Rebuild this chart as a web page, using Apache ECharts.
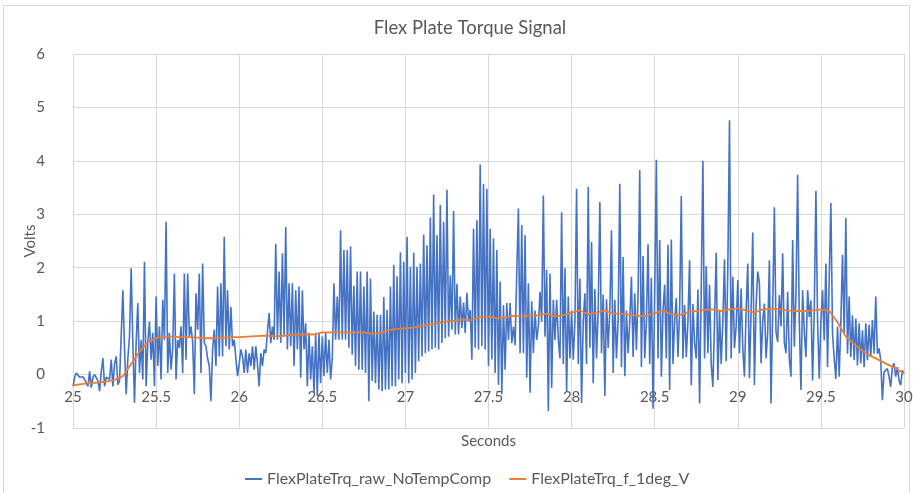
<!DOCTYPE html>
<html>
<head>
<meta charset="utf-8">
<script src="https://cdn.jsdelivr.net/npm/echarts@6/dist/echarts.min.js"></script>
<style>
  html, body { margin: 0; padding: 0; background: #fff; }
  .frame {
    position: absolute; left: 3px; top: 5px; width: 907px; height: 492px;
    border: 1px solid #d9d9d9; box-sizing: border-box;
  }
  #chart { position: absolute; left: 0; top: 0; width: 913px; height: 493px; }
</style>
</head>
<body>
<div class="frame"></div>
<div id="chart"></div>
<script>
// raw signal, one value every 0.01 s from 25.00 s
const rawStart = 25
const rawStep = 0.01
const rawValues = [
  -0.22, -0.05, 0.03, 0.02, -0.05, -0.08, -0.04, -0.06, -0.15, -0.22,
  0.06, -0.25, -0.05, 0.00, -0.03, -0.12, -0.31, 0.05, 0.31, -0.22,
  -0.05, -0.03, -0.09, 0.28, -0.22, 0.20, 0.34, -0.19, -0.12, -0.09,
  1.58, 0.50, -0.37, 0.30, 0.71, 1.99, 0.60, -0.53, 0.60, 1.34,
  0.03, 0.65, -0.09, 2.11, -0.22, 0.60, 0.99, 0.28, 0.78, -0.22,
  1.46, 0.16, 0.90, -0.09, 1.40, 0.65, 2.86, 0.03, 0.78, 0.09,
  0.50, 1.89, -0.09, 0.65, 0.50, 0.90, 0.03, 1.89, 0.28, 1.89,
  0.71, 0.90, 0.60, -0.37, 1.52, 0.84, 1.89, 0.03, 2.08, 0.59,
  0.53, 0.30, 0.16, -0.50, 0.47, 0.84, 0.16, 1.65, 0.34, 1.71,
  0.34, 2.58, 0.53, 1.58, 0.47, 1.27, 0.53, 0.65, 0.30, -0.03,
  0.20, 0.47, 0.34, 0.03, 0.47, 0.03, 0.40, 0.16, 0.53, 0.09,
  0.53, 0.20, -0.22, 0.40, 0.16, 0.47, 0.40, 0.80, 1.15, 0.59,
  0.90, 0.65, 2.45, 0.65, 1.93, 0.59, 2.27, 0.71, 2.76, 0.47,
  1.71, 0.53, 1.71, 0.16, 1.58, 0.47, 1.65, -0.06, 1.58, 0.47,
  0.96, -0.22, 0.78, -0.09, 0.53, -0.34, 0.78, -0.40, 0.78, -0.16,
  0.71, -0.03, 0.78, 0.03, 0.65, -0.09, 0.30, 1.71, 0.65, 1.46,
  0.65, 2.70, 0.65, 2.33, 0.65, 2.33, 0.50, 2.40, 0.37, 1.66,
  0.16, 1.93, 0.09, 1.93, 0.09, 1.65, 0.03, 1.93, -0.50, 1.80,
  -0.12, 1.18, -0.16, 1.12, -0.28, 1.12, -0.31, 1.45, -0.28, 1.21,
  -0.28, 1.65, -0.22, 2.05, -0.22, 1.84, -0.09, 2.29, -0.16, 2.11,
  0.03, 2.58, -0.16, 2.02, -0.09, 2.28, 0.03, 2.02, 0.25, 2.08,
  0.34, 2.62, 0.40, 2.42, 0.43, 2.94, 0.47, 3.37, 0.50, 2.61,
  0.47, 3.18, 0.59, 2.86, 0.68, 3.46, 0.71, 1.86, 0.84, 3.06,
  0.75, 1.70, 0.75, 1.46, 0.87, 1.35, 0.78, 1.53, 0.99, 1.21,
  0.28, 2.73, 0.50, 2.89, 0.47, 3.93, 0.53, 3.57, 0.47, 3.48,
  0.16, 2.73, 0.28, 2.55, 0.03, 2.33, -0.19, 1.74, -0.37, 1.30,
  0.09, 1.34, 0.65, 1.34, 0.59, 0.90, 0.55, 1.90, 3.11, 0.40,
  2.80, 0.40, 2.61, -0.06, 1.71, -0.34, 1.37, 0.40, 1.20, 0.65,
  0.90, 1.55, 0.99, 3.35, 0.71, 1.96, -0.68, 1.89, -0.25, 1.40,
  0.65, 1.40, 0.65, 0.30, 3.04, 0.20, 1.99, -0.31, 1.46, 0.30,
  1.20, 0.28, 1.00, 3.48, 0.20, 1.80, -0.53, 1.00, 1.52, 0.20,
  3.51, 0.50, 2.48, -0.16, 1.60, 0.30, 1.20, 3.23, 0.40, 1.50,
  -0.40, 1.41, 0.50, 1.20, 2.70, 0.03, 1.40, 0.30, 1.00, 3.57,
  0.14, 2.20, -0.03, 1.20, 0.40, 1.00, 1.83, 0.33, 1.52, 0.46,
  1.50, 3.83, 0.14, 2.22, 0.30, 1.00, 2.44, 0.20, 1.81, -0.64,
  1.50, 4.02, 0.30, 2.52, -0.04, 1.20, 1.68, 0.30, 2.43, -0.29,
  2.53, 0.20, 1.00, 1.43, 0.33, 1.20, 3.34, 0.30, 1.30, 0.33,
  1.00, 2.14, -0.20, 1.32, 0.60, 0.30, 1.59, -0.54, 1.60, 4.00,
  0.30, 2.03, 0.40, 1.68, 0.20, -0.23, 1.00, 2.28, -0.10, 1.20,
  0.20, 1.00, 2.16, 0.25, 2.00, 4.76, 0.30, 1.83, 0.50, 0.90,
  1.77, 0.40, 1.61, 0.50, -0.04, 1.20, 2.08, -0.07, 1.20, 2.66,
  -0.20, 1.30, 1.93, 1.71, 0.21, 1.00, 1.33, 0.30, 0.80, 2.14,
  -0.54, 1.20, 3.13, 0.80, 0.61, 1.49, 0.90, 2.27, 0.60, 0.40,
  1.55, 0.30, -0.04, 2.52, 0.52, 1.50, 3.74, 1.00, -0.29, 1.58,
  0.80, 0.33, 1.58, 1.08, 1.39, -0.11, 1.20, 3.44, 1.00, -0.08,
  1.00, 1.58, 0.64, 2.08, 0.14, 1.80, 3.21, 0.77, 0.30, -0.08,
  0.90, -0.04, 1.00, 2.24, 0.77, 2.93, 0.39, 1.46, 0.33, 1.11,
  0.27, 1.05, 0.17, 0.96, 0.21, 0.83, 0.14, 0.96, 0.27, 0.93,
  0.33, 1.02, 0.39, 1.46, 0.39, 0.49, 0.27, -0.48, 0.05, 0.02,
  0.11, -0.04, -0.23, 0.14, 0.21, -0.04, 0.14, -0.11, -0.20, 0.08,
  0.02
]

// filtered signal, one value every 0.05 s from 25.00 s
const filtStart = 25
const filtStep = 0.05
const filtValues = [
  -0.20, -0.18, -0.16, -0.15, -0.13, -0.10, -0.03, 0.20, 0.43, 0.61,
  0.68, 0.71, 0.71, 0.70, 0.70, 0.69, 0.68, 0.68, 0.69, 0.70,
  0.70, 0.71, 0.72, 0.73, 0.72, 0.72, 0.74, 0.75, 0.75, 0.75,
  0.79, 0.79, 0.79, 0.79, 0.79, 0.79, 0.76, 0.78, 0.83, 0.85,
  0.87, 0.88, 0.91, 0.94, 0.97, 0.99, 1.01, 1.03, 1.02, 1.08,
  1.09, 1.05, 1.07, 1.10, 1.09, 1.10, 1.11, 1.14, 1.09, 1.11,
  1.16, 1.20, 1.13, 1.16, 1.20, 1.14, 1.14, 1.12, 1.10, 1.10,
  1.15, 1.19, 1.13, 1.11, 1.17, 1.19, 1.21, 1.22, 1.19, 1.22,
  1.24, 1.20, 1.16, 1.22, 1.23, 1.22, 1.20, 1.19, 1.19, 1.20,
  1.22, 1.19, 0.98, 0.71, 0.57, 0.44, 0.35, 0.27, 0.19, 0.12,
  0.02
]

const seriesNames = ['FlexPlateTrq_raw_NoTempComp', 'FlexPlateTrq_f_1deg_V']
const textColor = '#595959'
const font = 'Lato, "Open Sans", sans-serif'

const toPairs = (start, step, values) =>
  values.map((v, i) => [+(start + i * step).toFixed(3), v])

const chart = echarts.init(document.getElementById('chart'))

chart.setOption({
  animation: false,
  title: {
    text: 'Flex Plate Torque Signal',
    left: 465,
    textAlign: 'center',
    top: 14,
    textStyle: { fontFamily: font, fontSize: 18.5, fontWeight: 'normal', color: textColor }
  },
  legend: {
    bottom: 1,
    left: 240,
    itemWidth: 17,
    itemHeight: 2,
    itemGap: 18,
    icon: 'rect',
    textStyle: { fontFamily: font, fontSize: 16, color: textColor },
    data: seriesNames
  },
  grid: { left: 73, right: 9, top: 54, bottom: 65, containLabel: false, outerBoundsMode: 'none' },
  xAxis: {
    type: 'value',
    min: 25,
    max: 30,
    interval: 0.5,
    name: 'Seconds',
    nameLocation: 'middle',
    nameGap: 6,
    nameMoveOverlap: false,
    nameTextStyle: { fontFamily: font, fontSize: 15, color: textColor, verticalAlign: 'top' },
    axisLine: { show: false, onZero: false },
    axisTick: { show: false },
    axisLabel: { fontFamily: font, fontSize: 15, color: textColor, inside: true, margin: 23 },
    splitLine: { show: true, lineStyle: { color: '#d9d9d9' } }
  },
  yAxis: {
    type: 'value',
    min: -1,
    max: 6,
    interval: 1,
    name: 'Volts',
    nameLocation: 'middle',
    nameGap: 35,
    nameMoveOverlap: false,
    nameTextStyle: { fontFamily: font, fontSize: 15, color: textColor },
    axisLine: { show: false },
    axisTick: { show: false },
    axisLabel: { fontFamily: font, fontSize: 15, color: textColor, margin: 28 },
    splitLine: { lineStyle: { color: '#d9d9d9' } }
  },
  series: [
    {
      name: seriesNames[0],
      type: 'line',
      showSymbol: false,
      color: '#4472c4',
      lineStyle: { width: 1.6 },
      data: toPairs(rawStart, rawStep, rawValues)
    },
    {
      name: seriesNames[1],
      type: 'line',
      showSymbol: false,
      color: '#ed7d31',
      lineStyle: { width: 1.8 },
      data: toPairs(filtStart, filtStep, filtValues)
    }
  ]
})
</script>
</body>
</html>
